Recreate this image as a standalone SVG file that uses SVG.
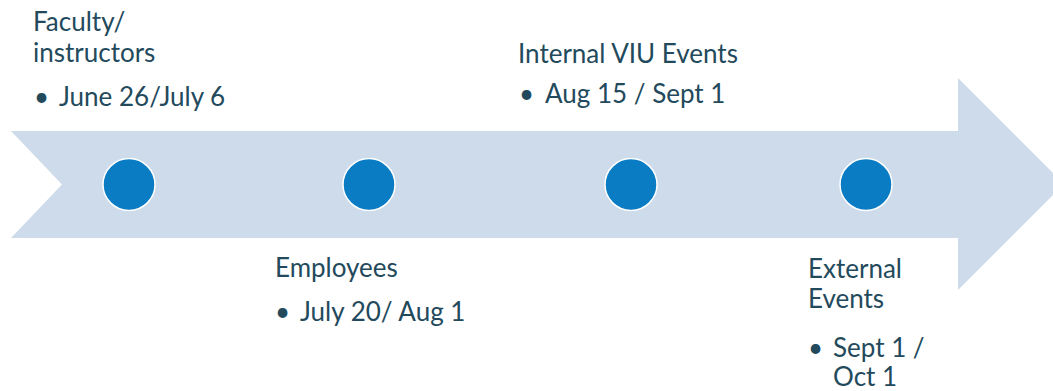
<svg xmlns="http://www.w3.org/2000/svg" width="1053" height="391" viewBox="0 0 1053 391">
  <style>
    .lbl { font-family: Lato, "Open Sans", "Liberation Sans", sans-serif; font-size: 26px; fill: #234a5c; }
    .dot { fill: #0a7cc4; stroke: #ffffff; stroke-width: 1.5; }
  </style>
  <rect width="1053" height="391" fill="#ffffff"/>
  <!-- timeline arrow -->
  <g id="arrow">
    <path d="M11,131 L958,131 L958,78 L1064,184 L958,290 L958,238 L11,238 L62,184.5 Z" fill="#cddbeb"/>
  </g>
  <g id="connectors"></g>
  <g id="node-faculty">
    <circle class="dot" cx="129" cy="184.5" r="26"/>
    <text class="lbl" x="33" y="31">Faculty/</text>
    <text class="lbl" x="33" y="62">instructors</text>
    <text class="lbl" x="34" y="106">•</text>
    <text class="lbl" x="59" y="106">June 26/July 6</text>
  </g>
  <g id="node-employees">
    <circle class="dot" cx="369" cy="184.5" r="26"/>
    <text class="lbl" x="275" y="277">Employees</text>
    <text class="lbl" x="275" y="321">•</text>
    <text class="lbl" x="300" y="321">July 20/ Aug 1</text>
  </g>
  <g id="node-internal">
    <circle class="dot" cx="631" cy="184.5" r="26"/>
    <text class="lbl" x="518" y="63">Internal VIU Events</text>
    <text class="lbl" x="519" y="103">•</text>
    <text class="lbl" x="545" y="103">Aug 15 / Sept 1</text>
  </g>
  <g id="node-external">
    <circle class="dot" cx="866" cy="184.5" r="26"/>
    <text class="lbl" x="808" y="278">External</text>
    <text class="lbl" x="808" y="308">Events</text>
    <text class="lbl" x="808" y="357">•</text>
    <text class="lbl" x="833" y="357">Sept 1 /</text>
    <text class="lbl" x="833" y="386">Oct 1</text>
  </g>
</svg>
